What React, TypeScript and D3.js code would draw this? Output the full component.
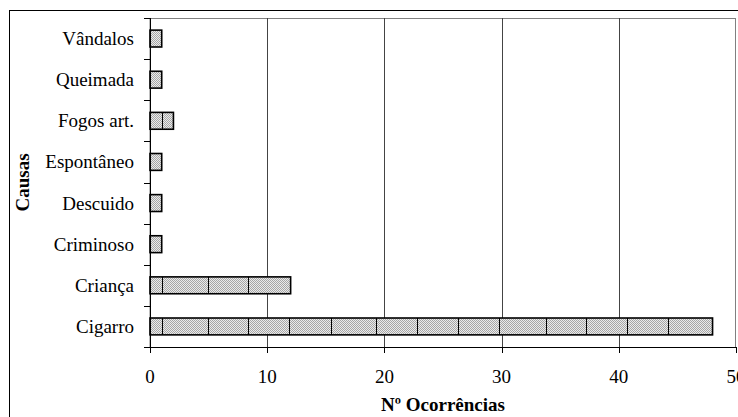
import React from "react";
import * as d3 from "d3";

// Causes of fire occurrences (horizontal bars, bottom to top)
const categories = ["Cigarro", "Criança", "Criminoso", "Descuido", "Espontâneo", "Fogos art.", "Queimada", "Vândalos"];
const occurrences = [48, 12, 1, 1, 1, 2, 1, 1];
const xTicks = [0, 10, 20, 30, 40, 50];
// Positions (in data units) where the tiled bar fill repeats
const tileBreaks = [1, 4.92, 8.39, 11.89, 15.42, 19.31, 22.81, 26.31, 29.8, 33.76, 37.22, 40.72, 44.22];

const W = 738;
const H = 417;
const FONT = "Liberation Serif, Times New Roman, serif";

export default function App() {
  const left = 150;
  const right = 736;
  const top = 18;
  const bottom = 347;

  const x = d3.scaleLinear().domain([0, 50]).range([left, right]);
  const yDomain = [...categories].reverse();
  const y = d3.scaleBand<string>().domain(yDomain).range([top, bottom]).paddingInner(0.59).paddingOuter(0.295);
  const band = d3.scaleBand<string>().domain(yDomain).range([top, bottom]);

  const boundaries = d3.range(categories.length + 1).map((i) => top + i * band.step());

  const textStyle = { fontFamily: FONT, fontSize: "19px" };

  return (
    <svg width={W} height={H} style={{ position: "absolute", left: 0, top: 0, background: "#fff" }}>
      <defs>
        <pattern id="dots" patternUnits="userSpaceOnUse" width={2} height={2}>
          <rect width={2} height={2} fill="#ebebeb" />
          <rect x={0} y={0} width={1} height={1} fill="#a6a6a6" />
          <rect x={1} y={1} width={1} height={1} fill="#a6a6a6" />
        </pattern>
      </defs>
      {/* chart frame */}
      <rect x={9.5} y={10.5} width={W} height={H} fill="none" stroke="#000" strokeWidth={1} />
      {/* plot area border */}
      <rect x={left} y={top + 0.5} width={right - left - 0.5} height={bottom - top} fill="none" stroke="#808080" strokeWidth={1} />
      {/* vertical gridlines */}
      {xTicks.slice(1, -1).map((t) => (
        <line key={t} x1={Math.round(x(t)) + 0.5} x2={Math.round(x(t)) + 0.5} y1={top} y2={bottom} stroke="#444" strokeWidth={1} />
      ))}
      {/* bars */}
      {categories.map((c, i) => {
        const v = occurrences[i];
        const y0 = y(c)!;
        const h = y.bandwidth();
        return (
          <g key={c}>
            <rect x={x(0)} y={y0} width={x(v) - x(0)} height={h} fill="url(#dots)" stroke="#000" strokeWidth={1.6} />
            {tileBreaks
              .filter((b) => b < v - 0.3)
              .map((b) => (
                <line key={b} x1={Math.round(x(b)) + 0.5} x2={Math.round(x(b)) + 0.5} y1={y0} y2={y0 + h} stroke="#000" strokeWidth={1} />
              ))}
          </g>
        );
      })}
      {/* axes */}
      <line x1={left + 0.5} x2={left + 0.5} y1={top} y2={bottom + 6} stroke="#000" strokeWidth={1} />
      <line x1={left - 6} x2={right} y1={bottom + 0.5} y2={bottom + 0.5} stroke="#000" strokeWidth={1} />
      {boundaries.map((b, i) => (
        <line key={i} x1={left - 6} x2={left} y1={Math.round(b) + 0.5} y2={Math.round(b) + 0.5} stroke="#000" strokeWidth={1} />
      ))}
      {xTicks.map((t) => (
        <g key={t}>
          <line x1={Math.round(x(t)) + 0.5} x2={Math.round(x(t)) + 0.5} y1={bottom} y2={bottom + 6} stroke="#000" strokeWidth={1} />
          <text x={x(t)} y={383} textAnchor="middle" style={textStyle} fill="#000">
            {t}
          </text>
        </g>
      ))}
      {categories.map((c) => (
        <text key={c} x={134} y={band(c)! + band.bandwidth() / 2 + 6.5} textAnchor="end" style={textStyle} fill="#000">
          {c}
        </text>
      ))}
      {/* axis titles */}
      <text x={(left + right) / 2} y={411} textAnchor="middle" style={{ ...textStyle, fontWeight: "bold" }} fill="#000">
        Nº Ocorrências
      </text>
      <text
        transform={`translate(28.5, ${(top + bottom) / 2}) rotate(-90)`}
        textAnchor="middle"
        style={{ ...textStyle, fontWeight: "bold" }}
        fill="#000"
      >
        Causas
      </text>
    </svg>
  );
}
